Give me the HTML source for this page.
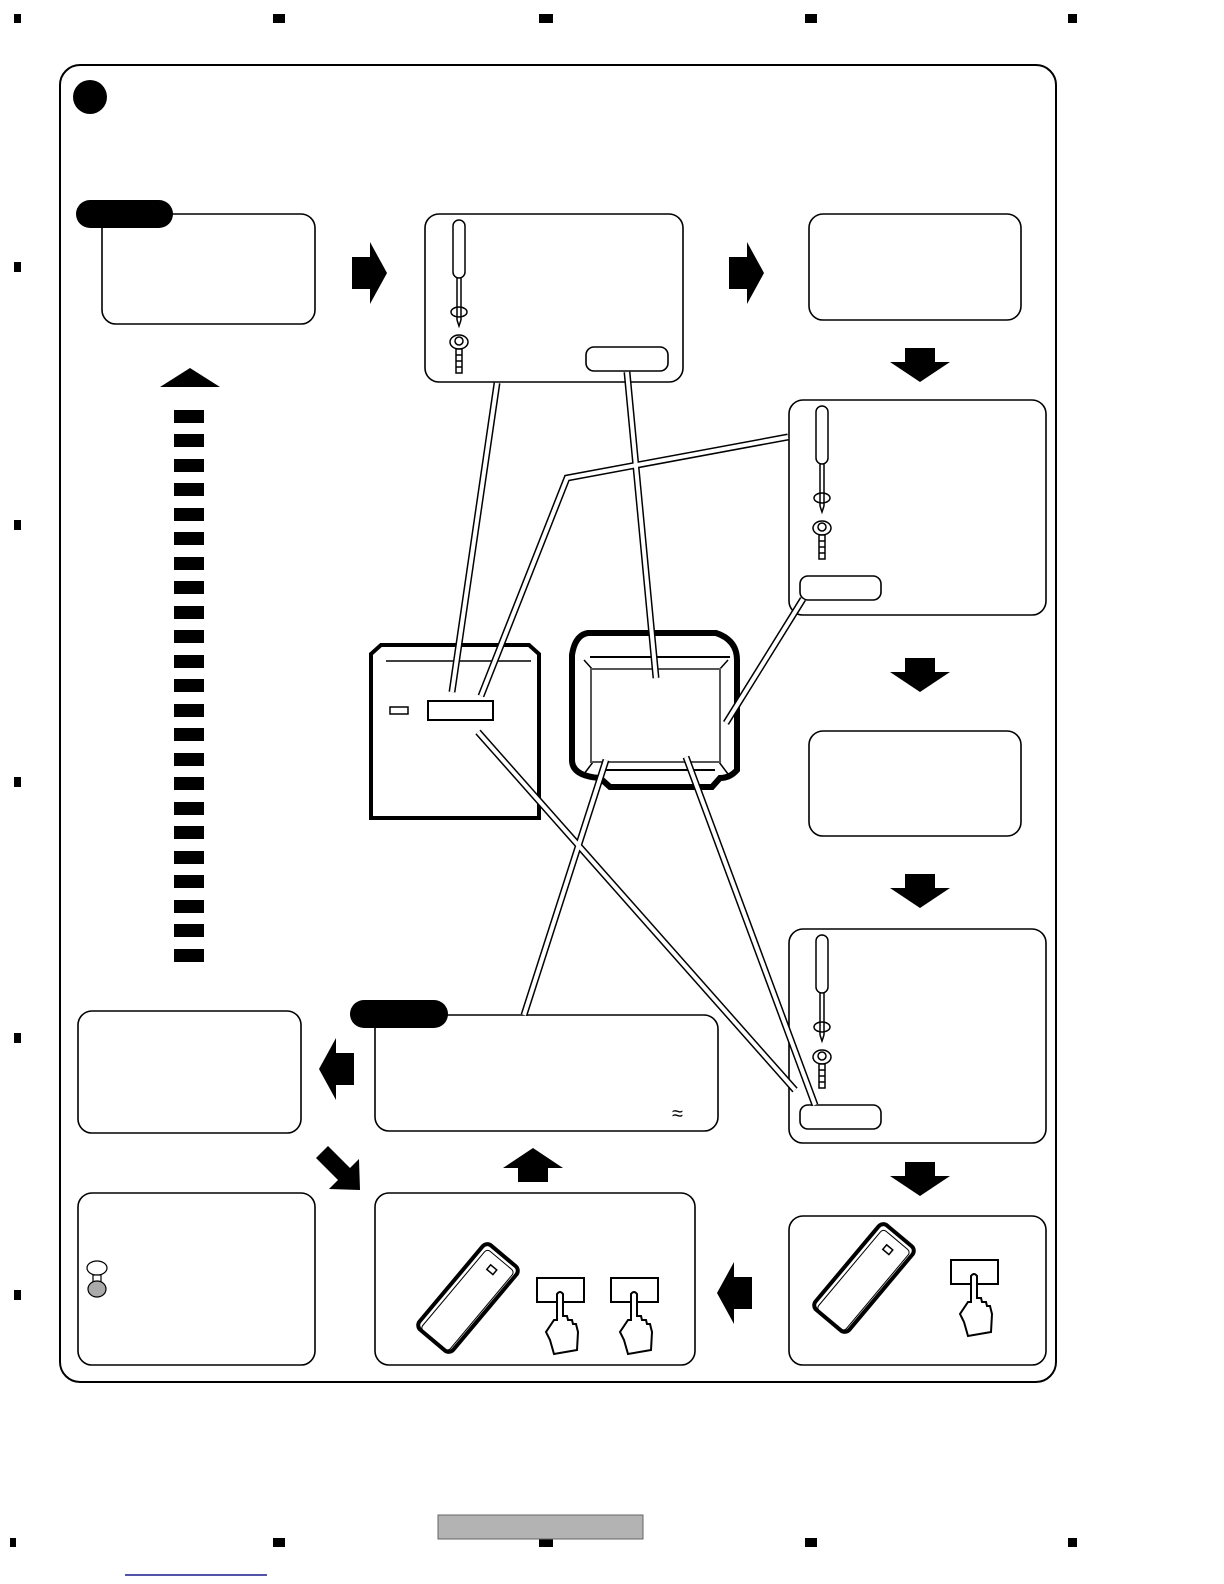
<!DOCTYPE html>
<html><head><meta charset="utf-8"><style>html,body{margin:0;padding:0;background:#fff;width:1224px;height:1584px;overflow:hidden}svg{display:block}</style></head>
<body>
<svg width="1224" height="1584" viewBox="0 0 1224 1584" xmlns="http://www.w3.org/2000/svg" font-family="Liberation Sans, sans-serif">
<defs>
<g id="sd" fill="#fff" stroke="#000" stroke-width="1.5">
  <rect x="-6" y="0" width="12" height="58" rx="6"/>
  <line x1="-2" y1="58" x2="-2" y2="100"/><line x1="2" y1="58" x2="2" y2="100"/>
  <ellipse cx="0" cy="92" rx="8" ry="5" fill="none"/>
  <path d="M-2 100 L0 106 L2 100"/>
  <ellipse cx="0" cy="122" rx="9" ry="7"/>
  <circle cx="0" cy="121" r="4"/>
  <rect x="-3" y="129" width="6" height="24"/>
  <line x1="-3" y1="135" x2="3" y2="135"/><line x1="-3" y1="141" x2="3" y2="141"/><line x1="-3" y1="147" x2="3" y2="147"/>
</g>
<g id="rem">
  <rect x="-22" y="-55" width="44" height="110" rx="6" fill="#fff" stroke="#000" stroke-width="4"/>
  <rect x="-17" y="-50" width="36" height="104" rx="4" fill="none" stroke="#000" stroke-width="1"/>
  <rect x="-4" y="-40" width="8" height="6" fill="none" stroke="#000" stroke-width="1.5"/>
</g>
<g id="hand" fill="#fff" stroke="#000" stroke-width="2">
  <rect x="-23" y="-24" width="47" height="24"/>
  <path d="M-3 -8 Q0 -12 3 -8 L3 14 L7 14 L8 18 L12 18 L13 22 L16 22 L18 30 L17 48 L-6 52 L-10 38 L-14 30 L-6 18 L-3 18 Z"/>
</g>
<g id="rarr"><polygon points="0,15 18,15 18,0 35,31 18,62 18,47 0,47"/></g>
<g id="darr"><polygon points="15,0 45,0 45,14 60,14 30,34 0,14 15,14"/></g>
</defs>

<g fill="#000">
<rect x="14" y="14" width="7" height="9"/><rect x="273" y="14" width="12" height="9"/><rect x="539" y="14" width="14" height="9"/><rect x="805" y="14" width="12" height="9"/><rect x="1068" y="14" width="9" height="9"/>
<rect x="14" y="262" width="7" height="10"/><rect x="14" y="520" width="7" height="10"/><rect x="14" y="777" width="7" height="10"/><rect x="14" y="1033" width="7" height="10"/><rect x="14" y="1290" width="7" height="10"/>
<rect x="10" y="1538" width="6" height="9"/><rect x="273" y="1538" width="12" height="9"/><rect x="539" y="1538" width="14" height="9"/><rect x="805" y="1538" width="12" height="9"/><rect x="1068" y="1538" width="9" height="9"/>
</g>
<rect x="438" y="1515" width="205" height="24" fill="#b3b3b3" stroke="#666" stroke-width="1"/>
<line x1="125" y1="1575" x2="267" y2="1575" stroke="#1a1a8c" stroke-width="1.5"/>

<rect x="60" y="65" width="996" height="1317" rx="20" fill="#fff" stroke="#000" stroke-width="2"/>
<circle cx="90" cy="97" r="17"/>

<g fill="#fff" stroke="#000" stroke-width="1.6">
<rect x="102" y="214" width="213" height="110" rx="14"/>
<rect x="425" y="214" width="258" height="168" rx="14"/>
<rect x="586" y="347" width="82" height="24" rx="8"/>
<rect x="809" y="214" width="212" height="106" rx="14"/>
<rect x="789" y="400" width="257" height="215" rx="14"/>
<rect x="800" y="576" width="81" height="24" rx="8"/>
<rect x="809" y="731" width="212" height="105" rx="14"/>
<rect x="789" y="929" width="257" height="214" rx="14"/>
<rect x="800" y="1105" width="81" height="24" rx="8"/>
<rect x="789" y="1216" width="257" height="149" rx="14"/>
<rect x="375" y="1193" width="320" height="172" rx="14"/>
<rect x="78" y="1193" width="237" height="172" rx="14"/>
<rect x="78" y="1011" width="223" height="122" rx="14"/>
<rect x="375" y="1015" width="343" height="116" rx="14"/>
</g>
<rect x="76" y="200" width="97" height="28" rx="14"/>
<rect x="350" y="1000" width="98" height="28" rx="14"/>
<text x="672" y="1120" font-size="20">≈</text>

<use href="#rarr" x="352" y="242"/>
<use href="#rarr" x="729" y="242"/>
<use href="#darr" x="890" y="348"/>
<use href="#darr" x="890" y="658"/>
<use href="#darr" x="890" y="874"/>
<use href="#darr" x="890" y="1162"/>
<use href="#rarr" transform="translate(354,1038) scale(-1,1)"/>
<use href="#rarr" transform="translate(752,1262) scale(-1,1)"/>
<use href="#darr" transform="translate(503,1182) scale(1,-1)"/>
<polygon points="328,1146 350,1168 359,1159 360,1190 329,1189 338,1180 316,1158"/>
<polygon points="160,387 190,368 220,387"/>
<g fill="#000">
<rect x="174" y="410" width="30" height="13"/><rect x="174" y="434" width="30" height="13"/><rect x="174" y="459" width="30" height="13"/><rect x="174" y="483" width="30" height="13"/><rect x="174" y="508" width="30" height="13"/><rect x="174" y="532" width="30" height="13"/><rect x="174" y="557" width="30" height="13"/><rect x="174" y="581" width="30" height="13"/><rect x="174" y="606" width="30" height="13"/><rect x="174" y="630" width="30" height="13"/><rect x="174" y="655" width="30" height="13"/><rect x="174" y="679" width="30" height="13"/><rect x="174" y="704" width="30" height="13"/><rect x="174" y="728" width="30" height="13"/><rect x="174" y="753" width="30" height="13"/><rect x="174" y="777" width="30" height="13"/><rect x="174" y="802" width="30" height="13"/><rect x="174" y="826" width="30" height="13"/><rect x="174" y="851" width="30" height="13"/><rect x="174" y="875" width="30" height="13"/><rect x="174" y="900" width="30" height="13"/><rect x="174" y="924" width="30" height="13"/><rect x="174" y="949" width="30" height="13"/>
</g>

<use href="#sd" x="459" y="220"/>
<use href="#sd" x="822" y="406"/>
<use href="#sd" x="822" y="935"/>
<g stroke="#000" stroke-width="1.2" fill="#fff"><ellipse cx="97" cy="1268" rx="10" ry="7"/><rect x="93" y="1275" width="8" height="8"/><ellipse cx="97" cy="1289" rx="9" ry="8" fill="#aaa"/></g>

<use href="#rem" transform="translate(468,1298) rotate(40)"/>
<use href="#rem" transform="translate(864,1278) rotate(40)"/>
<use href="#hand" x="560" y="1302"/>
<use href="#hand" x="634" y="1302"/>
<use href="#hand" x="974" y="1284"/>

<!-- devices -->
<path d="M371 654 L381 645 L529 645 L539 654 L539 818 L371 818 Z" fill="#fff" stroke="#000" stroke-width="4"/>
<line x1="386" y1="661" x2="531" y2="661" stroke="#000" stroke-width="1.5"/>
<rect x="390" y="707" width="18" height="7" fill="none" stroke="#000" stroke-width="1.5"/>
<rect x="428" y="701" width="65" height="19" fill="none" stroke="#000" stroke-width="2"/>
<path d="M588 633 L716 633 Q737 640 737 660 L737 770 Q730 778 720 778 L712 787 L610 787 L600 778 Q572 776 572 760 L572 655 Q575 635 588 633 Z" fill="#fff" stroke="#000" stroke-width="6"/>
<line x1="590" y1="657" x2="730" y2="657" stroke="#000" stroke-width="2"/>
<line x1="603" y1="770" x2="715" y2="770" stroke="#000" stroke-width="2"/>
<g stroke="#000" stroke-width="1.5"><line x1="584" y1="660" x2="593" y2="670"/><line x1="728" y1="660" x2="719" y2="670"/><line x1="584" y1="774" x2="593" y2="762"/><line x1="728" y1="774" x2="719" y2="762"/></g>
<rect x="591" y="669" width="129" height="93" fill="#fff" stroke="#555" stroke-width="2"/>

<!-- connectors (white-filled double lines) -->
<g fill="none" stroke-linejoin="miter">
<g stroke="#000" stroke-width="7">
<polyline points="497,383 452,692"/>
<polyline points="788,437 567,478 481,696"/>
<polyline points="627,372 656,678"/>
<polyline points="803,599 726,723"/>
<polyline points="478,732 795,1090"/>
<polyline points="606,760 524,1015"/>
<polyline points="686,757 815,1105"/>
</g>
<g stroke="#fff" stroke-width="4">
<polyline points="497,383 452,692"/>
<polyline points="788,437 567,478 481,696"/>
<polyline points="627,372 656,678"/>
<polyline points="803,599 726,723"/>
<polyline points="478,732 795,1090"/>
<polyline points="606,760 524,1015"/>
<polyline points="686,757 815,1105"/>
</g>
</g>
</svg>
</body></html>
